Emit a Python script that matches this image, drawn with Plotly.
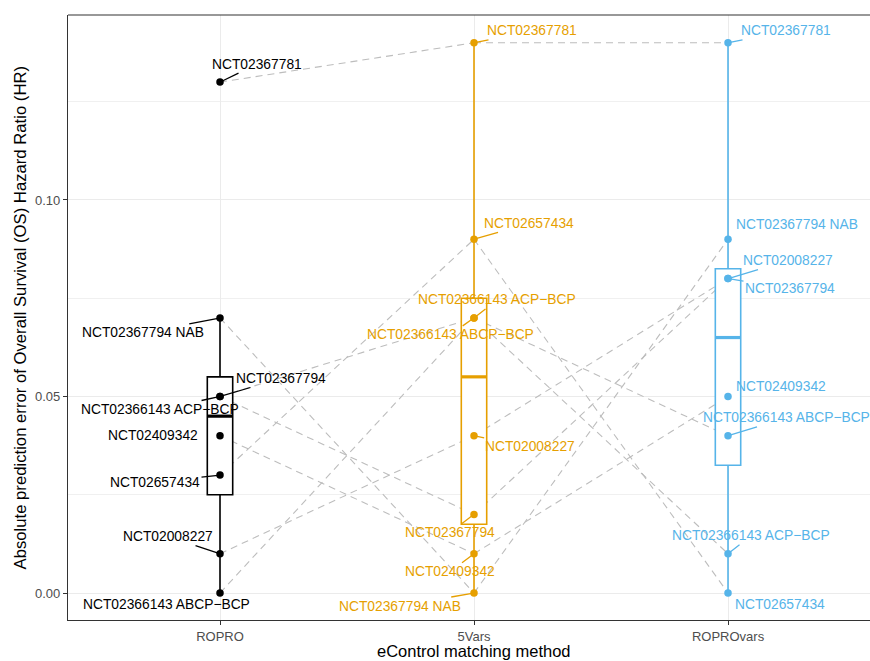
import numpy as np
import plotly.graph_objects as go

# ---- data -------------------------------------------------------------
methods = ["ROPRO", "5Vars", "ROPROvars"]
trials = [
    "NCT02367781",
    "NCT02367794 NAB",
    "NCT02367794",
    "NCT02366143 ACP\u2212BCP",
    "NCT02409342",
    "NCT02657434",
    "NCT02008227",
    "NCT02366143 ABCP\u2212BCP",
]
err_ropro = [0.13, 0.07, 0.05, 0.05, 0.04, 0.03, 0.01, 0.00]
err_5vars = [0.14, 0.00, 0.02, 0.07, 0.01, 0.09, 0.04, 0.07]
err_ropro_vars = [0.14, 0.09, 0.08, 0.01, 0.05, 0.00, 0.08, 0.04]
y_ticks = [0.0, 0.05, 0.10]
y_tick_text = ["0.00", "0.05", "0.10"]

series = [err_ropro, err_5vars, err_ropro_vars]
colors = ["#000000", "#E69F00", "#56B4E9"]
positions = [1, 2, 3]

# label placement: (dx, dy) pixel offset of the label centre from its point,
# and whether a leader segment is drawn
label_offsets = [
    {   # ROPRO
        "NCT02367781": (37, -18, True),
        "NCT02367794 NAB": (-77, 15, True),
        "NCT02367794": (61, -18, True),
        "NCT02366143 ACP\u2212BCP": (-60, 13, True),
        "NCT02409342": (-67, 0, False),
        "NCT02657434": (-65, 7, True),
        "NCT02008227": (-52, -17, True),
        "NCT02366143 ABCP\u2212BCP": (-54, 11, False),
    },
    {   # 5Vars
        "NCT02367781": (58, -12, True),
        "NCT02367794 NAB": (-74, 13, True),
        "NCT02367794": (-24, 18, True),
        "NCT02366143 ACP\u2212BCP": (23, -18, True),
        "NCT02409342": (-24, 18, True),
        "NCT02657434": (55, -16, True),
        "NCT02008227": (56, 11, True),
        "NCT02366143 ABCP\u2212BCP": (-24, 17, True),
    },
    {   # ROPROvars
        "NCT02367781": (58, -12, True),
        "NCT02367794 NAB": (69, -15, False),
        "NCT02008227": (60, -18, True),
        "NCT02367794": (62, 10, True),
        "NCT02409342": (53, -10, False),
        "NCT02657434": (52, 11, False),
        "NCT02366143 ABCP\u2212BCP": (58, -18, True),
        "NCT02366143 ACP\u2212BCP": (23, -18, True),
    },
]

FONT = "Liberation Sans, Arial, Helvetica, sans-serif"
BOX_W = 0.1

fig = go.Figure()
shapes = []
annotations = []

# dashed connectors between the same trial across methods (under the boxes)
for t_idx, _ in enumerate(trials):
    for m in range(len(methods) - 1):
        shapes.append(dict(
            type="line", xref="x", yref="y", layer="between",
            x0=positions[m], y0=series[m][t_idx],
            x1=positions[m + 1], y1=series[m + 1][t_idx],
            line=dict(color="#BDBDBD", width=1.1, dash="7px,5px"),
        ))

# boxplots (Tukey whiskers, type-7 quartiles)
for pos, vals, col in zip(positions, series, colors):
    v = np.asarray(vals)
    q1, med, q3 = np.percentile(v, [25, 50, 75])
    iqr = q3 - q1
    lo = v[v >= q1 - 1.5 * iqr].min()
    hi = v[v <= q3 + 1.5 * iqr].max()
    fig.add_trace(go.Box(
        x=[pos], q1=[q1], median=[med], q3=[q3],
        lowerfence=[lo], upperfence=[hi],
        width=BOX_W, whiskerwidth=0, boxpoints=False,
        fillcolor="white", line=dict(color=col, width=1.6),
        showlegend=False, hoverinfo="skip",
    ))
    # heavier median bar
    fig.add_trace(go.Scatter(
        x=[pos - BOX_W / 2, pos + BOX_W / 2], y=[med, med],
        mode="lines", line=dict(color=col, width=3.2),
        showlegend=False, hoverinfo="skip",
    ))

# points
for pos, vals, col in zip(positions, series, colors):
    fig.add_trace(go.Scatter(
        x=[pos] * len(vals), y=vals, mode="markers",
        marker=dict(color=col, size=7.5),
        text=trials, showlegend=False,
    ))

# trial labels
for m, (pos, vals, col) in enumerate(zip(positions, series, colors)):
    for t_idx, name in enumerate(trials):
        dx, dy, seg = label_offsets[m][name]
        base = dict(x=pos, y=vals[t_idx], xref="x", yref="y", text=name,
                    font=dict(family=FONT, size=13.8, color=col))
        if seg:
            annotations.append(dict(
                base, showarrow=True, arrowhead=0, arrowwidth=1.3,
                arrowcolor=col, ax=dx, ay=dy, standoff=2,
            ))
        else:
            annotations.append(dict(
                base, showarrow=False, xanchor="center", yanchor="middle",
                xshift=dx, yshift=-dy,
            ))

# axis titles
annotations.append(dict(
    text="eControl matching method", x=2, xref="x", y=0, yref="paper",
    yanchor="middle", yshift=-31, showarrow=False,
    font=dict(family=FONT, size=16.5, color="#000000"),
))
annotations.append(dict(
    text="Absolute prediction error of Overall Survival (OS) Hazard Ratio (HR)",
    x=0, xref="paper", xshift=-48, y=0.5, yref="paper",
    xanchor="center", yanchor="middle", textangle=-90, showarrow=False,
    font=dict(family=FONT, size=16.7, color="#000000"),
))

# top panel border
shapes.append(dict(type="line", xref="paper", yref="paper", x0=0, x1=1,
                   y0=1, y1=1, line=dict(color="#333333", width=1.2)))

fig.update_layout(
    width=870, height=661,
    margin=dict(l=68, r=0, t=15, b=41),
    paper_bgcolor="white", plot_bgcolor="white",
    font=dict(family=FONT),
    shapes=shapes, annotations=annotations,
    showlegend=False,
    xaxis=dict(
        range=[0.4016, 3.559], tickvals=positions, ticktext=methods,
        showgrid=True, gridcolor="#EBEBEB", gridwidth=1.1, zeroline=False,
        showline=True, linecolor="#333333", linewidth=1.2,
        ticks="outside", ticklen=4, tickcolor="#333333", tickwidth=1.1,
        tickfont=dict(family=FONT, size=13, color="#4D4D4D"),
    ),
    yaxis=dict(
        range=[-0.00687, 0.14707], tickvals=y_ticks, ticktext=y_tick_text,
        showgrid=True, gridcolor="#EBEBEB", gridwidth=1.1, zeroline=False,
        showline=True, linecolor="#333333", linewidth=1.2,
        ticks="outside", ticklen=4, tickcolor="#333333", tickwidth=1.1,
        tickfont=dict(family=FONT, size=13, color="#4D4D4D"),
        minor=dict(tickvals=[0.025, 0.075, 0.125], showgrid=True,
                   gridcolor="#F0F0F0", gridwidth=0.8, ticks=""),
    ),
)

fig.write_html("out.html")
